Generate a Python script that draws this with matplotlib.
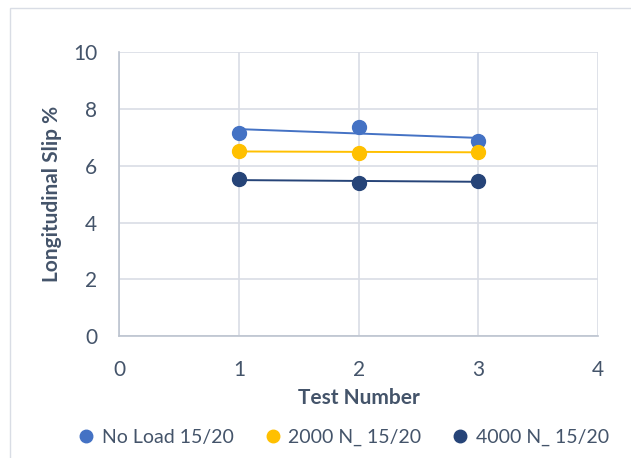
import matplotlib
matplotlib.use("Agg")
import matplotlib.pyplot as plt
from matplotlib.patches import Rectangle
import numpy as np

plt.rcParams["font.family"] = ["Lato", "DejaVu Sans"]

TEXT = "#44546A"
GRID = "#D9DDE5"
SPINE = "#BCC3CF"

test_number = [1, 2, 3]
no_load = [7.17, 7.38, 6.86]
load_2000 = [6.53, 6.44, 6.50]
load_4000 = [5.53, 5.40, 5.47]

series = [
    ("No Load 15/20", no_load, "#4472C4"),
    ("2000 N_ 15/20", load_2000, "#FFC000"),
    ("4000 N_ 15/20", load_4000, "#264478"),
]

fig = plt.figure(figsize=(6.31, 4.58), dpi=100)
ax = fig.add_axes([0.189, 0.266, 0.759, 0.620])

# outer chart frame
fig.patches.append(Rectangle((10 / 631, -0.1), 1.0, 1.1 - 8 / 458,
                             transform=fig.transFigure, fill=False,
                             edgecolor="#D9DDE5", lw=1.0))

x = np.array(test_number, dtype=float)
handles = []
for name, vals, col in series:
    y = np.array(vals)
    # linear trendline across the tests
    k, b = np.polyfit(x, y, 1)
    xs = np.array([x.min(), x.max()])
    ax.plot(xs, k * xs + b, color=col, lw=1.4, zorder=3)
    h, = ax.plot(x, y, "o", color=col, ms=10, mec=col, zorder=4,
                 label=name)
    handles.append(h)

ax.set_xlim(0, 4)
ax.set_ylim(0, 10)
ax.set_xticks([0, 1, 2, 3, 4])
ax.set_yticks([0, 2, 4, 6, 8, 10])
ax.grid(True, color=GRID, lw=1.2)
ax.set_axisbelow(True)
for s in ("top", "right"):
    ax.spines[s].set_visible(False)
for s in ("left", "bottom"):
    ax.spines[s].set_color(SPINE)
    ax.spines[s].set_linewidth(1.2)
ax.tick_params(length=0, labelsize=15, colors=TEXT)
ax.tick_params(axis="y", pad=16)
ax.tick_params(axis="x", pad=17)

ax.set_xlabel("Test Number", fontsize=15, fontweight="bold", color=TEXT,
              labelpad=6)
ax.set_ylabel("Longitudinal Slip %", fontsize=15, fontweight="bold",
              color=TEXT, labelpad=8)

fig.legend(handles=handles, loc="center", bbox_to_anchor=(0.543, 0.045),
           ncol=3, frameon=False, fontsize=14, handletextpad=0.3,
           columnspacing=1.5, markerscale=0.9, labelcolor=TEXT,
           handlelength=1.0)

fig.savefig("out.png", dpi=100)
